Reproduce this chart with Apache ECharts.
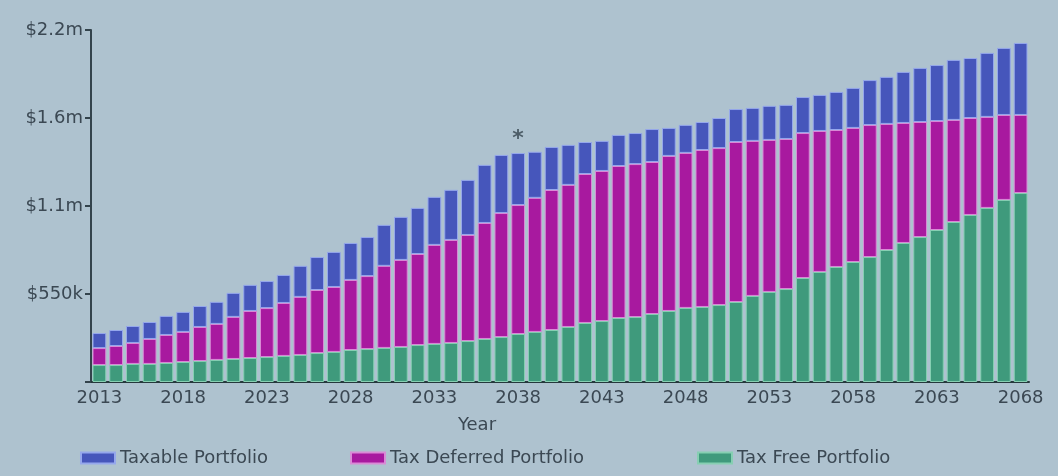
<!DOCTYPE html>
<html>
<head>
<meta charset="utf-8">
<script src="https://cdn.jsdelivr.net/npm/echarts@6/dist/echarts.min.js"></script>
<style>
html,body{margin:0;padding:0;background:#aec2cf;}
#chart{width:1058px;height:476px;}
</style>
</head>
<body>
<div id="chart"></div>
<script>
var years = ['2013','2014','2015','2016','2017','2018','2019','2020','2021','2022','2023','2024','2025','2026','2027','2028','2029','2030','2031','2032','2033','2034','2035','2036','2037','2038','2039','2040','2041','2042','2043','2044','2045','2046','2047','2048','2049','2050','2051','2052','2053','2054','2055','2056','2057','2058','2059','2060','2061','2062','2063','2064','2065','2066','2067','2068'];

// values in $ thousands
var taxFree = [106,106,113,113,119,125,131,138,144,150,156,163,169,181,188,200,206,213,219,231,238,244,256,269,281,300,313,325,344,369,381,400,406,425,444,463,469,481,500,538,563,581,650,688,719,750,781,825,869,906,950,1000,1044,1088,1138,1181];
var taxDeferred = [106,119,131,156,175,188,213,225,263,294,306,331,363,394,406,438,456,513,544,569,619,644,663,725,775,806,838,875,888,931,938,950,956,950,969,969,981,981,1000,969,950,938,906,881,856,838,825,788,750,719,681,638,606,569,531,488];
var taxable = [94,100,106,106,119,125,131,138,150,163,169,175,194,206,219,231,244,256,269,288,300,313,344,363,363,325,288,269,250,200,188,194,194,206,175,175,175,188,206,206,213,213,225,225,238,250,281,294,319,338,350,375,375,400,419,450];

var yTickValues = [0, 550, 1100, 1650, 2200];
var yTickLabels = ['', '$550k', '$1.1m', '$1.6m', '$2.2m'];
var markedYear = '2038';

var seriesNames = ['Taxable Portfolio', 'Tax Deferred Portfolio', 'Tax Free Portfolio'];

var FONT = 'DejaVu Sans';
var TXT = '#3b4853';

var markedIdx = years.indexOf(markedYear);
var markedTotal = taxFree[markedIdx] + taxDeferred[markedIdx] + taxable[markedIdx];

function legendAt(left, name) {
  return {
    data: [{name: name, icon: 'rect'}],
    left: left, top: 444,
    itemWidth: 34, itemHeight: 11, itemGap: 10,
    textStyle: {fontFamily: FONT, fontSize: 18, color: TXT},
    selectedMode: false
  };
}

var chart = echarts.init(document.getElementById('chart'), null, {renderer: 'canvas'});
chart.setOption({
  backgroundColor: '#aec2cf',
  animation: false,
  grid: {left: 91, right: 29, top: 30, bottom: 94, containLabel: false},
  legend: [
    legendAt(75, seriesNames[0]),
    legendAt(345, seriesNames[1]),
    legendAt(692, seriesNames[2])
  ],
  xAxis: {
    type: 'category',
    data: years,
    boundaryGap: true,
    name: 'Year',
    nameLocation: 'middle',
    nameGap: 34,
    nameTextStyle: {fontFamily: FONT, fontSize: 18, color: TXT, padding: [0, 166, 0, 0]},
    axisLine: {lineStyle: {color: '#25383c', width: 2}},
    axisTick: {show: true, inside: true, length: 6, interval: 4, alignWithLabel: true, lineStyle: {color: '#1d2f33', width: 2}},
    axisLabel: {interval: 4, margin: 7, fontFamily: FONT, fontSize: 18, color: TXT}
  },
  yAxis: {
    type: 'value',
    min: 0, max: 2200, interval: 550,
    splitLine: {show: false},
    axisLine: {show: true, lineStyle: {color: '#33434c', width: 2}},
    axisTick: {show: true, length: 6, lineStyle: {color: '#33434c', width: 2}},
    axisLabel: {
      margin: 8, fontFamily: FONT, fontSize: 18, color: TXT,
      formatter: function (v) { var i = yTickValues.indexOf(v); return i >= 0 ? yTickLabels[i] : ''; }
    }
  },
  series: [
    {
      name: seriesNames[2], type: 'bar', stack: 'p', data: taxFree,
      barCategoryGap: '18%',
      itemStyle: {color: '#3f9a7c', borderColor: '#86cfb2', borderWidth: 1}
    },
    {
      name: seriesNames[1], type: 'bar', stack: 'p', data: taxDeferred,
      itemStyle: {color: '#a8199f', borderColor: '#d98ad6', borderWidth: 1}
    },
    {
      name: seriesNames[0], type: 'bar', stack: 'p', data: taxable,
      itemStyle: {color: '#4656bb', borderColor: '#95a7ec', borderWidth: 1},
      markPoint: {
        symbol: 'circle', symbolSize: 1,
        itemStyle: {color: 'rgba(0,0,0,0)'},
        data: [{coord: [markedIdx, markedTotal]}],
        label: {show: true, formatter: '*', position: 'top', distance: 2, fontFamily: FONT, fontSize: 22, fontWeight: 'bold', color: '#4d5d68'}
      }
    }
  ]
});
</script>
</body>
</html>
